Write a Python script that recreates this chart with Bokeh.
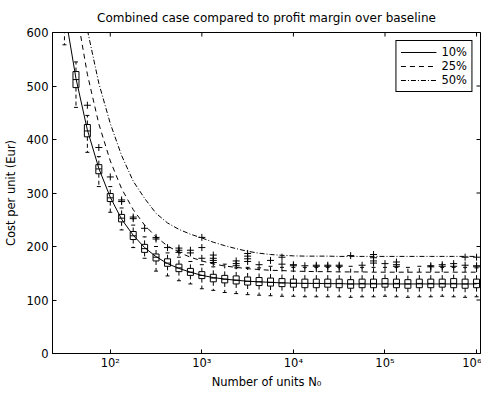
import math
from bokeh.plotting import figure
from bokeh.models import (Range1d, FixedTicker, Legend, LegendItem,
                          CustomJSTickFormatter, Title)
from bokeh.embed import file_html
from bokeh.resources import INLINE

TITLE = "Combined case compared to profit margin over baseline"
X_LABEL = "Number of units N\u2080"
Y_LABEL = "Cost per unit (Eur)"
SERIES_LABELS = ["10%", "25%", "50%"]

X_TICKS = [100, 1000, 10000, 100000, 1000000]
X_TICK_LABELS = ["10\u00b2", "10\u00b3", "10\u2074", "10\u2075", "10\u2076"]
Y_TICKS = [0, 100, 200, 300, 400, 500, 600]

# number of units (8 points per decade)
N = [31.6, 42.2, 56.2, 75.0, 100, 133, 178, 237, 316, 422, 562, 750,
     1000, 1334, 1778, 2371, 3162, 4217, 5623, 7499, 10000, 13335, 17783,
     23714, 31623, 42170, 56234, 74989, 100000, 133352, 177828, 237137,
     316228, 421697, 562341, 749894, 1000000]

# cost curves for the three margins
COST_10 = [642, 514, 418, 346, 292, 251, 221, 198, 181, 168, 159, 152,
           146, 142, 139, 137, 135, 134, 133, 132, 131.5, 131, 131, 130.5,
           130.5, 130, 130, 130, 130, 130, 130, 130, 130, 130, 130, 130, 130]
COST_25 = [810, 645, 522, 429, 360, 308, 269, 240, 218, 201, 189, 180,
           173, 167.5, 163.5, 161, 158.5, 157, 155.5, 155, 154, 153.5, 153,
           153, 152.5, 152.5, 152.5, 152, 152, 152, 152, 152, 152, 152, 152,
           152, 152]
COST_50 = [900, 740, 605, 505, 430, 370, 322, 290, 262, 244, 232, 223,
           216, 208, 201.5, 196, 191, 187.5, 185, 183.5, 182.5, 182, 182,
           182, 181.5, 181.5, 181.5, 181.5, 181.5, 181.5, 181.5, 181.5,
           181.5, 181.5, 181.5, 181.5, 181.5]

# box plot statistics (cost per unit)
BOX_Q1 = [606, 497, 405, 336, 284, 246, 213, 189, 173, 163, 153, 146,
          140, 134, 132, 130, 128, 127, 126, 125, 124, 123, 123, 124, 123,
          122, 123, 123, 124, 123, 122, 123, 123, 124, 123, 122, 123]
BOX_MED = [640, 512, 416, 345, 291, 253, 220, 196, 180, 169, 160, 152,
           146, 141, 139, 137, 135, 134, 133, 132, 131, 131, 131, 131, 131,
           130, 131, 131, 131, 131, 130, 131, 131, 131, 131, 130, 131]
BOX_Q3 = [680, 527, 428, 353, 299, 260, 228, 204, 186, 177, 167, 159,
          153, 148, 146, 145, 143, 142, 141, 140, 139, 139, 139, 139, 139,
          138, 139, 139, 140, 139, 138, 139, 139, 139, 140, 139, 139]
BOX_LO = [577, 460, 376, 312, 264, 231, 198, 178, 154, 145, 136, 130,
          121, 118, 114, 112, 110, 109, 108, 107, 107, 106, 106, 106, 106,
          105, 106, 106, 107, 106, 105, 106, 106, 107, 106, 105, 106]
BOX_HI = [720, 545, 445, 368, 312, 272, 240, 218, 200, 188, 180, 172,
          166, 162, 167, 160, 161, 160, 163, 161, 161, 161, 161, 161, 161,
          163, 161, 161, 161, 161, 161, 163, 163, 161, 161, 161, 160]

# outliers
FLIER_N = [56.2, 75.0, 100, 133, 133, 178, 178, 237, 316, 316, 422,
           562, 562, 562, 750, 750, 1000, 1000, 1000,
           1334, 1334, 1334, 1334, 2371, 2371, 2371,
           3162, 3162, 3162, 3162, 4217, 5623, 7499, 7499, 10000, 10000,
           13335, 17783, 17783, 23714, 23714, 31623, 31623, 42170, 56234,
           74989, 74989, 74989, 74989, 100000, 133352, 133352, 133352,
           316228, 316228, 421697, 421697, 562341, 562341, 749894, 749894,
           1000000, 1000000, 1000000]
FLIER_COST = [464, 385, 330, 287, 284, 255, 252, 234, 217, 214, 198,
              197, 193, 189, 193, 188, 217, 198, 178,
              184, 178, 174, 170, 173, 168, 164,
              187, 182, 177, 172, 166, 174, 180, 167, 166, 164,
              164, 165, 163, 165, 163, 165, 163, 183, 165,
              185, 179, 173, 169, 168, 171, 166, 163,
              164, 162, 166, 163, 168, 163, 180, 165,
              180, 164, 162]

FONT = "DejaVu Sans"
FS = "11.5px"
X_MIN, X_MAX = 10 ** 1.369, 10 ** 6.043
Y_MIN, Y_MAX = 0, 600

p = figure(width=481, height=388, x_axis_type="log",
           x_range=Range1d(X_MIN, X_MAX), y_range=Range1d(Y_MIN, Y_MAX),
           output_backend="svg", toolbar_location=None, title=TITLE,
           min_border_left=44, min_border_right=1, min_border_top=0,
           min_border_bottom=0)
p.background_fill_color = "white"
p.border_fill_color = "white"
p.grid.visible = False
p.outline_line_color = "black"
p.outline_line_width = 1
p.outline_line_alpha = 1

p.title.text_font = FONT
p.title.text_font_size = "12px"
p.title.text_font_style = "normal"
p.title.text_color = "black"
p.title.align = "center"
p.title.standoff = 16

xa = p.xaxis[0]
xa.ticker = FixedTicker(ticks=X_TICKS)
xa.formatter = CustomJSTickFormatter(
    args=dict(tvals=X_TICKS, tlabels=X_TICK_LABELS),
    code="""
let best = 0, d = Infinity;
for (let i = 0; i < tvals.length; i++) {
  const e = Math.abs(Math.log10(tvals[i]) - Math.log10(tick));
  if (e < d) { d = e; best = i; }
}
return tlabels[best];
""")
xa.major_label_standoff = 2
xa.axis_label_standoff = 0

ya = p.yaxis[0]
ya.ticker = FixedTicker(ticks=Y_TICKS)
ya.axis_label = Y_LABEL
ya.major_label_standoff = 4
ya.axis_label_standoff = 6

for ax in (xa, ya):
    ax.major_tick_in = 4
    ax.major_tick_out = 0
    ax.minor_tick_line_color = None
    ax.axis_line_color = "black"
    ax.major_tick_line_color = "black"
    ax.major_label_text_font = FONT
    ax.major_label_text_font_size = FS
    ax.major_label_text_color = "black"
    ax.axis_label_text_font = FONT
    ax.axis_label_text_font_size = FS
    ax.axis_label_text_font_style = "normal"
    ax.axis_label_text_color = "black"

# x-axis title as a caption under the tick labels
xt = Title(text=X_LABEL, align="center", text_font=FONT, text_font_size=FS,
           text_font_style="normal", text_color="black", standoff=0)
p.add_layout(xt, "below")

# inward tick marks on the top and right edges (half clipped by the frame)
p.scatter(X_TICKS, [Y_MAX] * len(X_TICKS), marker="dash", angle=math.pi / 2,
          size=8, line_color="black", line_width=1)
p.scatter([X_MAX] * len(Y_TICKS), Y_TICKS, marker="dash", size=8,
          line_color="black", line_width=1)

# box plots
mid = [(a + b) / 2 for a, b in zip(BOX_Q1, BOX_Q3)]
hgt = [b - a for a, b in zip(BOX_Q1, BOX_Q3)]
p.segment(x0=N, y0=BOX_Q1, x1=N, y1=BOX_LO, line_color="black",
          line_width=1, line_dash="4 3")
p.segment(x0=N, y0=BOX_Q3, x1=N, y1=BOX_HI, line_color="black",
          line_width=1, line_dash="4 3")
p.scatter(N, BOX_LO, marker="dash", size=4, line_color="black")
p.scatter(N, BOX_HI, marker="dash", size=4, line_color="black")
p.rect(x=N, y=mid, width=6, height=hgt, width_units="screen",
       fill_color=None, line_color="black", line_width=1)
p.scatter(N, BOX_MED, marker="dash", size=6, line_color="black")
p.scatter(FLIER_N, FLIER_COST, marker="cross", size=7, line_color="black",
          line_width=1)

# curves
r10 = p.line(N, COST_10, line_color="black", line_width=1)
r25 = p.line(N, COST_25, line_color="black", line_width=1, line_dash="5 4")
r50 = p.line(N, COST_50, line_color="black", line_width=1,
             line_dash="5 2 1 2")

legend = Legend(items=[LegendItem(label=SERIES_LABELS[0], renderers=[r10]),
                       LegendItem(label=SERIES_LABELS[1], renderers=[r25]),
                       LegendItem(label=SERIES_LABELS[2], renderers=[r50])],
                location="top_right")
legend.margin = 8
legend.padding = 4
legend.spacing = 0
legend.glyph_height = 12
legend.glyph_width = 36
legend.label_height = 12
legend.label_width = 10
legend.label_standoff = 5
legend.label_text_font = FONT
legend.label_text_font_size = FS
legend.label_text_color = "black"
legend.border_line_color = "black"
legend.border_line_width = 1
legend.border_line_alpha = 1
legend.background_fill_color = "white"
legend.background_fill_alpha = 1
p.add_layout(legend)

open("out.html", "w").write(file_html(p, INLINE))
